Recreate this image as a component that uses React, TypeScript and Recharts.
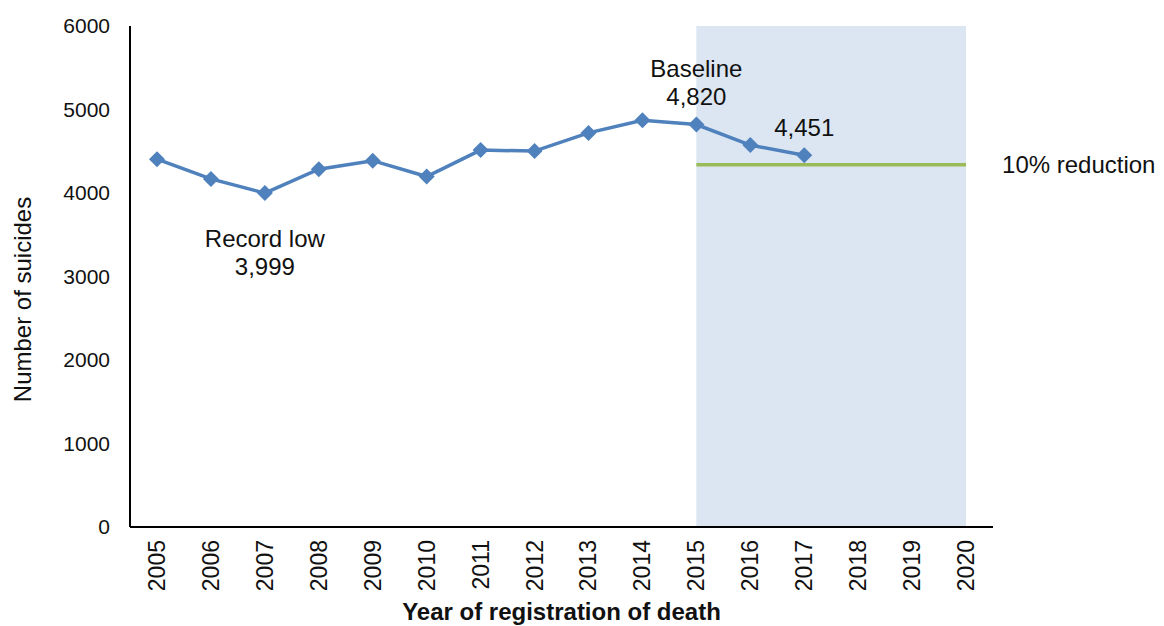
import React from "react"
import {
  LineChart,
  Line,
  XAxis,
  YAxis,
  ReferenceArea,
  ReferenceLine,
} from "recharts"

const years = [2005, 2006, 2007, 2008, 2009, 2010, 2011, 2012, 2013, 2014, 2015, 2016, 2017, 2018, 2019, 2020]
const suicides = [4405, 4169, 3999, 4285, 4387, 4197, 4514, 4502, 4720, 4871, 4820, 4574, 4451]
const yTicks = [0, 1000, 2000, 3000, 4000, 5000, 6000]
const baselineYear = 2015
const targetYear = 2020
const target = 4338
const targetLabel = "10% reduction"
const notes = [
  { year: 2007, lines: ["Record low", "3,999"], below: true },
  { year: 2015, lines: ["Baseline", "4,820"], below: false },
  { year: 2017, lines: ["4,451"], below: false },
]

const data = suicides.map((v, i) => ({ year: years[i], value: v }))
const bounds = [...years.map(y => y - 0.5), years[years.length - 1] + 0.5]
const domain = [bounds[0], bounds[bounds.length - 1]]

const FONT = "'Liberation Sans', Arial, sans-serif"
const TEXT = "#111"

const Diamond = (props: any) => {
  const { cx, cy } = props
  if (cx == null || cy == null) return null
  const r = 8
  return (
    <path
      d={`M${cx},${cy - r} L${cx + r},${cy} L${cx},${cy + r} L${cx - r},${cy} Z`}
      fill="#4f81bd"
      stroke="none"
    />
  )
}

const YearTick = (props: any) => {
  const { x, y, payload } = props
  return (
    <text
      transform={`rotate(-90, ${x}, ${y + 4})`}
      x={x}
      y={y + 4}
      textAnchor="end"
      dominantBaseline="central"
      fontSize={23}
      fontFamily={FONT}
      fill={TEXT}
    >
      {payload.value}
    </text>
  )
}

const YTitle = (props: any) => {
  const { viewBox } = props
  const cx = viewBox.x + 22
  const cy = viewBox.y + viewBox.height / 2 + 23
  return (
    <text
      transform={`rotate(-90, ${cx}, ${cy})`}
      x={cx}
      y={cy}
      textAnchor="middle"
      dominantBaseline="central"
      fontSize={24}
      fontFamily={FONT}
      fill={TEXT}
    >
      Number of suicides
    </text>
  )
}

const NoteLabel = (props: any) => {
  const { x, y, index } = props
  const note = notes.find(n => n.year === data[index]?.year)
  if (!note) return null
  const lh = 28
  const start = note.below ? y + 45 : y - 28 - (note.lines.length - 1) * lh
  return (
    <g>
      {note.lines.map((t, i) => (
        <text
          key={i}
          x={x}
          y={start + i * lh}
          textAnchor="middle"
          dominantBaseline="central"
          fontSize={24}
          fontFamily={FONT}
          fill={TEXT}
        >
          {t}
        </text>
      ))}
    </g>
  )
}

export default function App() {
  return (
    <div style={{ position: "absolute", left: 0, top: 0, background: "#fff" }}>
      <LineChart
        width={1164}
        height={626}
        data={data}
        margin={{ top: 26, right: 171, left: 0, bottom: 0 }}
      >
        <XAxis
          xAxisId="bounds"
          type="number"
          dataKey="year"
          domain={domain}
          ticks={bounds}
          interval={0}
          tick={false}
          height={1}
          tickSize={7}
          axisLine={{ stroke: "#000", strokeWidth: 2 }}
          tickLine={{ stroke: "#000", strokeWidth: 2 }}
          allowDataOverflow
        />
        <XAxis
          xAxisId="labels"
          type="number"
          dataKey="year"
          domain={domain}
          ticks={years}
          interval={0}
          tick={<YearTick />}
          tickLine={false}
          axisLine={false}
          height={98}
          allowDataOverflow
          label={{
            value: "Year of registration of death",
            position: "insideBottom",
            offset: 6,
            fontSize: 24,
            fontWeight: 700,
            fontFamily: FONT,
            fill: TEXT,
          }}
        />
        <YAxis
          domain={[0, 6000]}
          ticks={yTicks}
          width={130}
          tickLine={false}
          tickMargin={14}
          axisLine={{ stroke: "#000", strokeWidth: 2 }}
          tick={{ fontSize: 21, fontFamily: FONT, fill: TEXT }}
          label={<YTitle />}
        />
        <ReferenceArea
          xAxisId="labels"
          x1={baselineYear}
          x2={targetYear}
          y1={0}
          y2={6000}
          fill="#dce6f2"
          fillOpacity={1}
          stroke="none"
        />
        <ReferenceLine
          xAxisId="labels"
          segment={[
            { x: baselineYear, y: target },
            { x: targetYear, y: target },
          ]}
          stroke="#9bbb59"
          strokeWidth={3.5}
          label={{
            value: targetLabel,
            position: "right",
            offset: 36,
            fontSize: 24,
            fontFamily: FONT,
            fill: TEXT,
          }}
        />
        <Line
          xAxisId="labels"
          type="linear"
          dataKey="value"
          stroke="#4f81bd"
          strokeWidth={3.5}
          dot={<Diamond />}
          activeDot={false}
          label={<NoteLabel />}
          isAnimationActive={false}
        />
      </LineChart>
    </div>
  )
}
